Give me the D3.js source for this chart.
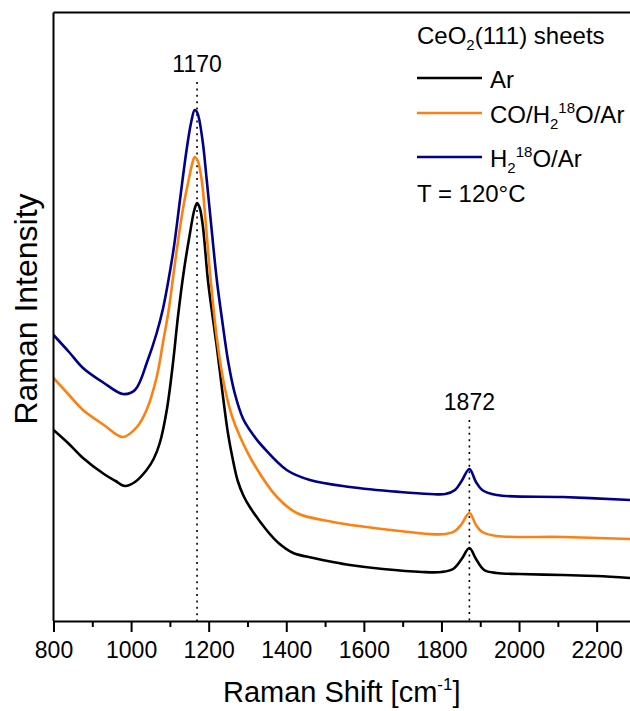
<!DOCTYPE html>
<html>
<head>
<meta charset="utf-8">
<script src="https://cdn.jsdelivr.net/npm/d3@7"></script>
<style>
  body { margin: 0; background: #fff; }
  text { font-family: "Liberation Sans", Arial, sans-serif; fill: #000; }
</style>
</head>
<body>
<div id="chart"></div>
<script>
// Raman spectra of CeO2(111) sheets, intensity in arbitrary units

// Ar spectrum
const arShift = [800, 840, 876, 930, 960, 984, 1010, 1040, 1058, 1074, 1092, 1108, 1121, 1136, 1151, 1163, 1170, 1177, 1185, 1198, 1210, 1221, 1237, 1250, 1263, 1275, 1290, 1306, 1349, 1380, 1418, 1470, 1520, 1564, 1649, 1750, 1800, 1830, 1852, 1872, 1889, 1910, 1942, 2000, 2113, 2200, 2286];
const arIntensity = [191, 177, 163, 147, 140, 135, 139, 151, 162, 178, 211, 258, 305, 350, 386, 411, 418, 413, 395, 341, 305, 274, 224, 187, 160, 140, 125, 114, 91, 78, 68, 63, 59, 56, 52, 49, 49, 52, 62, 73, 62, 51, 48, 47, 46, 45, 43];

// CO/H2 18O/Ar spectrum
const coShift = [800, 840, 876, 930, 979, 1015, 1040, 1066, 1082, 1097, 1108, 1121, 1135, 1150, 1158, 1164, 1171, 1182, 1192, 1203, 1222, 1240, 1260, 1280, 1315, 1376, 1427, 1520, 1607, 1770, 1810, 1835, 1852, 1872, 1889, 1905, 1942, 2113, 2286];
const coIntensity = [243, 226, 211, 196, 184, 194, 211, 244, 278, 311, 343, 380, 415, 444, 458, 464, 461, 441, 400, 350, 280, 236, 205, 185, 158, 124, 108, 99, 94, 87, 87, 90, 97, 108, 96, 89, 85, 84, 82];

// H2 18O/Ar spectrum
const h2oShift = [800, 840, 876, 930, 979, 1010, 1043, 1066, 1082, 1095, 1110, 1126, 1143, 1155, 1164, 1171, 1184, 1195, 1208, 1221, 1235, 1250, 1267, 1289, 1315, 1340, 1401, 1461, 1564, 1693, 1770, 1810, 1835, 1852, 1872, 1889, 1905, 1942, 2113, 2286];
const h2oIntensity = [286, 269, 253, 238, 227, 231, 261, 288, 312, 338, 373, 421, 471, 499, 511, 508, 481, 441, 390, 341, 300, 260, 228, 202, 186, 174, 151, 141, 134, 129, 127, 127, 131, 140, 152, 139, 131, 126, 124, 121];

// peak marks
const peakPositions = [1170, 1872];
const peakTops = [539, 201];

// x axis ticks
const majorTicks = [800, 1000, 1200, 1400, 1600, 1800, 2000, 2200];
const minorTicks = [900, 1100, 1300, 1500, 1700, 1900, 2100];

// Set Chart Dimensions and Margins
const margin = {top: 12.5, right: 0, bottom: 90, left: 53.5},
      width = 630 - margin.left - margin.right,
      height = 711 - margin.top - margin.bottom;

const svg = d3.select("#chart")
  .append("svg")
    .attr("width", width + margin.left + margin.right)
    .attr("height", height + margin.top + margin.bottom)
  .append("g")
    .attr("transform", `translate(${margin.left},${margin.top})`);

const x = d3.scaleLinear()
  .domain([800, 2286])
  .range([0, width]);

const y = d3.scaleLinear()
  .domain([0, height])
  .range([height, 0]);

// series table built from the arrays
const series = [
  {name: "Ar", color: "#000000", shift: arShift, intensity: arIntensity},
  {name: "CO/H2 18O/Ar", color: "#ff8010", shift: coShift, intensity: coIntensity},
  {name: "H2 18O/Ar", color: "#00008b", shift: h2oShift, intensity: h2oIntensity}
];

svg.append("clipPath")
    .attr("id", "clip")
  .append("rect")
    .attr("width", width)
    .attr("height", height);

// dotted peak lines
svg.selectAll(".peakline")
  .data(peakPositions)
  .enter()
  .append("line")
    .attr("x1", d => x(d))
    .attr("x2", d => x(d))
    .attr("y1", (d, i) => y(peakTops[i]))
    .attr("y2", height)
    .attr("stroke", "#000")
    .attr("stroke-width", 1.6)
    .attr("stroke-dasharray", "2,4.4");

svg.selectAll(".peaklabel")
  .data(peakPositions)
  .enter()
  .append("text")
    .attr("x", d => x(d))
    .attr("y", (d, i) => y(peakTops[i]) - 10)
    .attr("text-anchor", "middle")
    .style("font-size", "23px")
    .text(d => d);

// spectra
const line = d3.line()
  .x(d => x(d[0]))
  .y(d => y(d[1]))
  .curve(d3.curveCatmullRom.alpha(0.5));

svg.append("g")
    .attr("clip-path", "url(#clip)")
  .selectAll("path")
  .data(series)
  .enter()
  .append("path")
    .attr("fill", "none")
    .attr("stroke", d => d.color)
    .attr("stroke-width", 2.6)
    .attr("stroke-linejoin", "round")
    .attr("d", d => line(d.shift.map((s, i) => [s, d.intensity[i]])));

// frame: top and left
svg.append("line")
    .attr("x1", 0).attr("x2", width)
    .attr("y1", 0).attr("y2", 0)
    .attr("stroke", "#000").attr("stroke-width", 2);
svg.append("line")
    .attr("x1", 0).attr("x2", 0)
    .attr("y1", 0).attr("y2", height)
    .attr("stroke", "#000").attr("stroke-width", 2);

// x axis, minor ticks first
svg.append("g")
    .attr("transform", `translate(0,${height})`)
    .call(d3.axisBottom(x).tickValues(minorTicks).tickSize(6).tickSizeOuter(0).tickFormat(""))
    .call(g => g.select(".domain").remove())
    .selectAll("line").attr("stroke-width", 2);

const xAxis = svg.append("g")
    .attr("transform", `translate(0,${height})`)
    .call(d3.axisBottom(x).tickValues(majorTicks).tickSize(11).tickSizeOuter(0).tickPadding(10).tickFormat(d3.format("d")));
xAxis.select(".domain").attr("stroke-width", 2);
xAxis.selectAll("line").attr("stroke-width", 2);
xAxis.selectAll("text")
    .style("font-size", "23px")
    .style("font-family", "Liberation Sans, Arial, sans-serif");

// axis titles
const xTitle = svg.append("text")
    .attr("x", width / 2)
    .attr("y", height + 81)
    .attr("text-anchor", "middle")
    .style("font-size", "29px");
xTitle.append("tspan").text("Raman Shift [cm");
xTitle.append("tspan").attr("dy", -12).style("font-size", "17px").text("-1");
xTitle.append("tspan").attr("dy", 12).text("]");

svg.append("text")
    .attr("transform", `translate(${37 - margin.left},${309 - margin.top}) rotate(-90)`)
    .attr("text-anchor", "middle")
    .style("font-size", "32px")
    .text("Raman Intensity");

// legend
const legend = svg.append("g")
    .attr("transform", `translate(${417 - margin.left},0)`);

const head = legend.append("text")
    .attr("x", 0).attr("y", 31)
    .style("font-size", "24px");
head.append("tspan").text("CeO");
head.append("tspan").attr("dy", 6).style("font-size", "15px").text("2");
head.append("tspan").attr("dy", -6).text("(111) sheets");

const rowY = [65.5, 100.5, 144.5];

legend.selectAll(".legline")
  .data(series)
  .enter()
  .append("line")
    .attr("x1", 0).attr("x2", 65)
    .attr("y1", (d, i) => rowY[i]).attr("y2", (d, i) => rowY[i])
    .attr("stroke", d => d.color)
    .attr("stroke-width", 2.6);

// Ar
legend.append("text").attr("x", 73).attr("y", rowY[0] + 9.5).style("font-size", "24px").text("Ar");

// CO/H2 18O/Ar
const t2 = legend.append("text").attr("x", 73).attr("y", rowY[1] + 9.5).style("font-size", "24px");
t2.append("tspan").text("CO/H");
t2.append("tspan").attr("dy", 6).style("font-size", "15px").text("2");
t2.append("tspan").attr("dy", -16).style("font-size", "15px").text("18");
t2.append("tspan").attr("dy", 10).text("O/Ar");

// H2 18O/Ar
const t3 = legend.append("text").attr("x", 73).attr("y", rowY[2] + 10).style("font-size", "24px");
t3.append("tspan").text("H");
t3.append("tspan").attr("dy", 6).style("font-size", "15px").text("2");
t3.append("tspan").attr("dy", -16).style("font-size", "15px").text("18");
t3.append("tspan").attr("dy", 10).text("O/Ar");

legend.append("text").attr("x", 0).attr("y", 189.5).style("font-size", "24px").text("T = 120°C");
</script>
</body>
</html>
